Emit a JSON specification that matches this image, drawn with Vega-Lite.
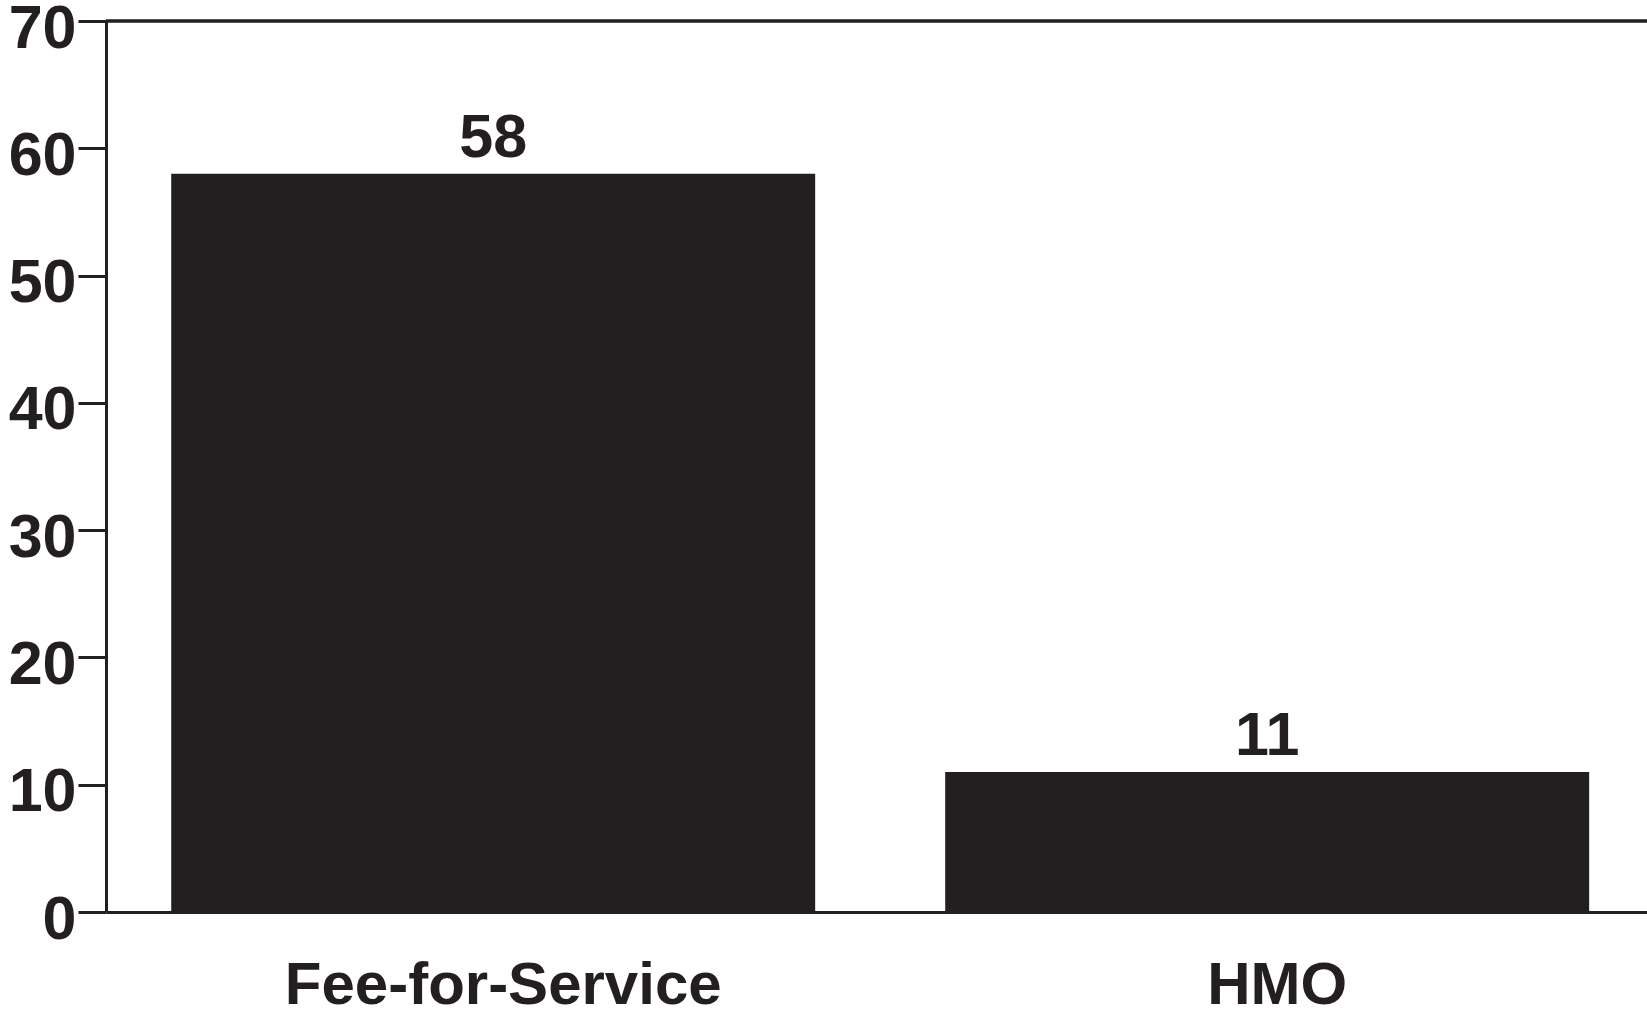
{
  "$schema": "https://vega.github.io/schema/vega-lite/v6.json",
  "width": 1541,
  "height": 891,
  "autosize": {"type": "none"},
  "padding": {"left": 106, "top": 21, "right": 0, "bottom": 99},
  "background": "white",
  "config": {
    "view": {"stroke": null},
    "font": "Liberation Sans"
  },
  "data": {
    "values": [
      {"group": "Fee-for-Service", "value": 58},
      {"group": "HMO", "value": 11}
    ]
  },
  "layer": [
    {
      "mark": {"type": "bar", "color": "#231f20"},
      "encoding": {
        "x": {
          "field": "group",
          "type": "nominal",
          "sort": null,
          "scale": {"paddingInner": 0.168, "paddingOuter": 0.0795, "align": 0.53},
          "axis": {
            "title": null,
            "labelAngle": 0,
            "ticks": false,
            "domainColor": "#231f20",
            "domainWidth": 3,
            "labelFont": "Liberation Sans",
            "labelFontWeight": "bold",
            "labelFontSize": 60,
            "labelColor": "#231f20",
            "labelPadding": 44,
            "labelOffset": 10,
            "labelLimit": 0
          }
        },
        "y": {
          "field": "value",
          "type": "quantitative",
          "scale": {"domain": [0, 70], "nice": false},
          "axis": {
            "title": null,
            "values": [0, 10, 20, 30, 40, 50, 60, 70],
            "grid": false,
            "tickSize": 28,
            "tickWidth": 3,
            "tickColor": "#231f20",
            "domainColor": "#231f20",
            "domainWidth": 3,
            "labelFont": "Liberation Sans",
            "labelFontWeight": "bold",
            "labelFontSize": 61,
            "labelColor": "#231f20",
            "labelPadding": 2,
            "labelOffset": 8
          }
        }
      }
    },
    {
      "mark": {
        "type": "text",
        "font": "Liberation Sans",
        "fontWeight": "bold",
        "fontSize": 61,
        "color": "#231f20",
        "baseline": "alphabetic",
        "dy": -17
      },
      "encoding": {
        "x": {"field": "group", "type": "nominal", "sort": null},
        "y": {"field": "value", "type": "quantitative"},
        "text": {"field": "value", "type": "quantitative"}
      }
    },
    {
      "mark": {"type": "rule", "color": "#231f20", "strokeWidth": 3},
      "encoding": {
        "y": {"datum": 70}
      }
    }
  ]
}
